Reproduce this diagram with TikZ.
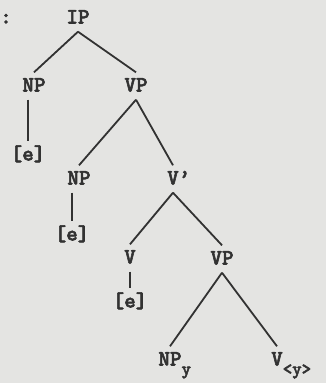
\documentclass[tikz,border=0pt]{standalone}
\usepackage{fontspec}
\setmonofont[FakeBold=2.5]{lmmonolt10-bold.otf}
\definecolor{paper}{RGB}{228,228,226}
\definecolor{ink}{RGB}{50,50,50}
\newcommand{\catsub}[1]{\rlap{\raisebox{-9pt}{\fontsize{18}{18}\selectfont #1}}}

\begin{document}
\begin{tikzpicture}[
    x=1pt, y=-1pt,
    every node/.style={font=\ttfamily\fontsize{22}{22}\selectfont, text=ink,
        inner sep=4pt, text height=15pt, text depth=4pt},
    branch/.style={draw=ink, line width=1.8pt}
]

\fill [paper] (0,0) rectangle (326,383);
\useasboundingbox (0,0) rectangle (326,383);

% categories
\node [inner sep=0pt] (colon) at (6,18) {:};
\node (ip) at (78,18) {IP};
\node (np1) at (34,86) {NP};
\node (vp1) at (136,86) {VP};
\node (e1) at (28,155) {[e]};
\node (np2) at (79,179) {NP};
\node (vbar) at (173,179) {V\rlap{\textquoteright}};
\node (e2) at (72,235) {[e]};
\node (v) at (130,258) {V};
\node (vp2) at (222,259) {VP};
\node (e3) at (130,302) {[e]};
\node (npy) at (170,360) {NP\catsub{y}};
\node (vy) at (277,360) {V\catsub{<y>}};

% branches
\draw [branch] (ip.south) -- (np1.north);
\draw [branch] (ip.south) -- (vp1.north);
\draw [branch] (np1.south -| e1) -- (e1.north);
\draw [branch] (vp1.south) -- (np2.north);
\draw [branch] (vp1.south) -- (vbar.north);
\draw [branch] (np2.south -| e2) -- (e2.north);
\draw [branch] (vbar.south) -- (v.north);
\draw [branch] (vbar.south) -- (vp2.north);
\draw [branch] (v.south -| e3) -- (e3.north);
\draw [branch] (vp2.south) -- (npy.north);
\draw [branch] (vp2.south) -- (vy.north);

\end{tikzpicture}
\end{document}
